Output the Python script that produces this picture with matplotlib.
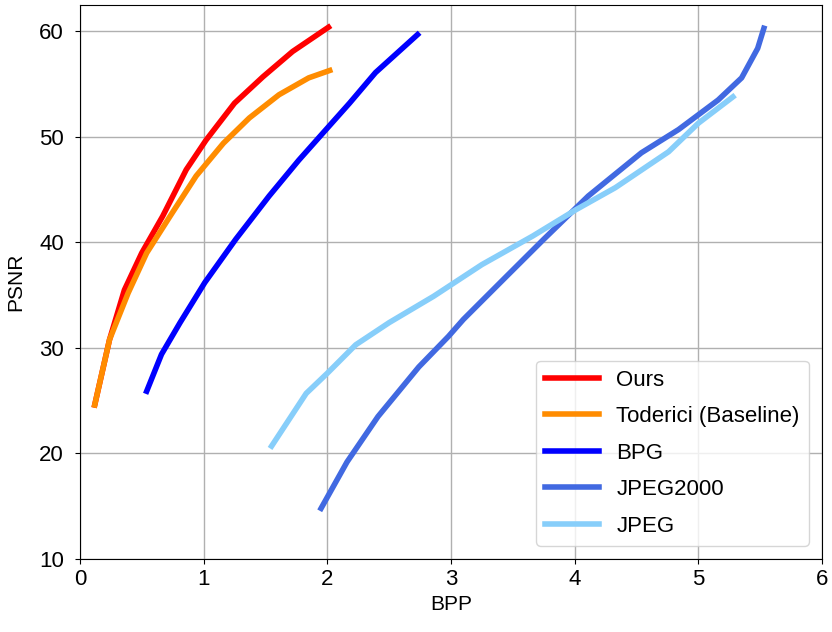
import matplotlib
matplotlib.use("Agg")
import matplotlib.pyplot as plt

# courbes debit / qualite
ours_bpp = [0.12, 0.24, 0.36, 0.50, 0.67, 0.86, 1.02, 1.25, 1.48, 1.72, 2.01]
ours_psnr = [24.6, 30.8, 35.5, 39.0, 42.5, 46.9, 49.7, 53.2, 55.7, 58.1, 60.4]

toderici_bpp = [0.12, 0.24, 0.39, 0.54, 0.73, 0.94, 1.16, 1.37, 1.61, 1.85, 2.02]
toderici_psnr = [24.6, 30.8, 35.2, 39.0, 42.5, 46.3, 49.4, 51.8, 54.0, 55.6, 56.3]

bpg_bpp = [0.54, 0.66, 0.81, 1.01, 1.26, 1.53, 1.77, 1.99, 2.18, 2.39, 2.73]
bpg_psnr = [25.9, 29.4, 32.4, 36.2, 40.3, 44.4, 47.8, 50.7, 53.2, 56.1, 59.7]

jp2k_bpp = [1.95, 2.16, 2.41, 2.74, 2.98, 3.10, 3.45, 3.75, 4.11, 4.54, 4.84, 5.16, 5.35, 5.48, 5.53]
jp2k_psnr = [14.8, 19.2, 23.5, 28.2, 31.1, 32.7, 36.8, 40.3, 44.4, 48.5, 50.7, 53.5, 55.6, 58.4, 60.3]

jpeg_bpp = [1.55, 1.83, 2.00, 2.23, 2.50, 2.86, 3.25, 3.66, 4.01, 4.33, 4.76, 5.00, 5.28]
jpeg_psnr = [20.7, 25.7, 27.6, 30.3, 32.4, 34.9, 37.9, 40.6, 43.1, 45.2, 48.6, 51.3, 53.8]

plt.rcParams['font.family'] = ['Liberation Sans', 'DejaVu Sans']
plt.rcParams['font.size'] = 16

fig = plt.figure(figsize=(8.32, 6.32), dpi=100)
ax = fig.add_axes([0.096, 0.1155, 0.892, 0.8765])

lw = 4
ax.plot(ours_bpp, ours_psnr, color='red', lw=lw, label='Ours')
ax.plot(toderici_bpp, toderici_psnr, color='darkorange', lw=lw, label='Toderici (Baseline)')
ax.plot(bpg_bpp, bpg_psnr, color='blue', lw=lw, label='BPG')
ax.plot(jp2k_bpp, jp2k_psnr, color='royalblue', lw=lw, label='JPEG2000')
ax.plot(jpeg_bpp, jpeg_psnr, color='lightskyblue', lw=lw, label='JPEG')

ax.set_xlim(0, 6)
ax.set_ylim(10, 62.5)
ax.set_xticks(range(0, 7))
ax.set_yticks(range(10, 61, 10))
ax.tick_params(labelsize=16)
ax.tick_params(axis='y', pad=8)
ax.set_xlabel('BPP', fontsize=15)
ax.set_ylabel('PSNR', fontsize=15, labelpad=10)
ax.grid(True, color='#b0b0b0', lw=1)

ax.legend(loc='lower right', handlelength=2.4, fontsize=16, labelspacing=0.7,
          borderaxespad=0.6)

fig.savefig('out.png', dpi=100)
